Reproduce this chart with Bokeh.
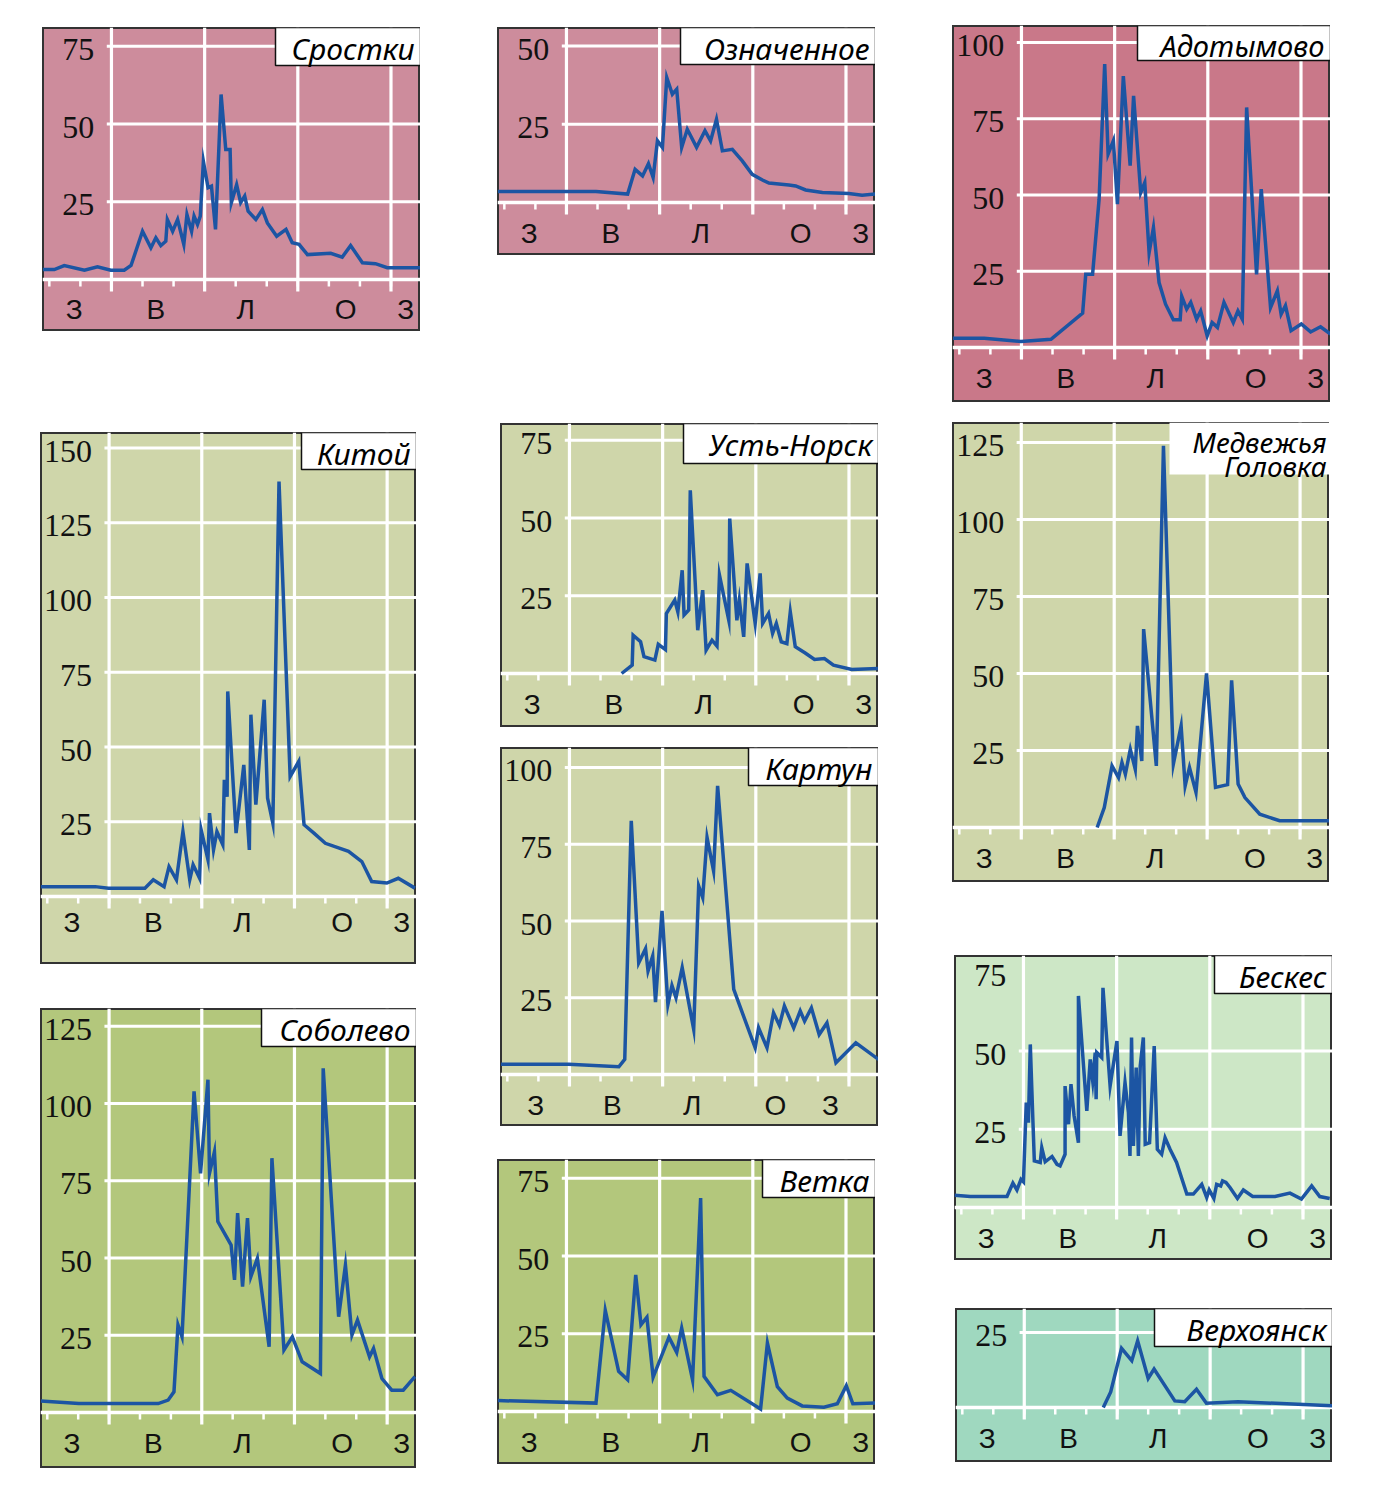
from bokeh.plotting import figure
from bokeh.models import Range1d, Spacer
from bokeh.layouts import row, column
from bokeh.core.properties import value
from bokeh.embed import file_html
from bokeh.resources import INLINE

# ---------------- data (x in months from 1 Jan, y = values) ----------------
SEASONS = ["З", "В", "Л", "О", "З"]
SEASON_X = [0.80, 3.43, 6.32, 9.54, 11.47]
SEASON_X_KARTUN = [0.91, 3.38, 5.95, 8.63, 10.40]
MONTHS = list(range(12))
SEASON_BOUNDS = [2, 5, 8, 11]

srostki_x = [-0.21, 0.16, 0.48, 1.13, 1.55, 1.98, 2.41, 2.63, 3.0, 3.27, 3.43, 3.59, 3.75, 3.8, 3.97,
             4.13, 4.33, 4.43, 4.58, 4.66, 4.77, 4.86, 4.96, 5.11, 5.22, 5.35, 5.53, 5.68, 5.82, 5.86,
             6.03, 6.16, 6.29, 6.4, 6.65, 6.86, 7.02, 7.32, 7.62, 7.82, 8.04, 8.31, 9.06, 9.43, 9.7,
             10.08, 10.5, 10.88, 11.95]
srostki_y = [3.2, 3.2, 4.5, 3.0, 4.1, 3.0, 3.0, 4.5, 15.5, 10.2, 13.4, 10.9, 12.3, 19.3, 15.5,
             19.3, 11.3, 20.9, 15.5, 20.4, 17.7, 20.4, 38.0, 29.5, 30.0, 16.1, 59.5, 41.8, 41.8, 24.7,
             30.5, 24.7, 26.8, 22.0, 19.3, 22.5, 18.2, 13.9, 16.1, 11.8, 11.3, 8.0, 8.4, 7.2, 10.9,
             5.4, 5.1, 3.8, 3.8]

oznach_x = [-0.21, 2.95, 3.97, 4.21, 4.45, 4.64, 4.79, 4.93, 5.09, 5.23, 5.41, 5.55, 5.71, 5.89, 6.19,
            6.46, 6.64, 6.83, 7.02, 7.34, 7.66, 7.98, 8.31, 8.52, 9.16, 9.38, 9.7, 10.24, 11.09, 11.52, 11.95]
oznach_y = [3.5, 3.5, 2.7, 10.6, 8.5, 12.4, 8.0, 19.7, 17.6, 39.9, 34.6, 36.2, 17.6, 23.4, 17.6,
            22.9, 19.7, 26.6, 16.5, 17.0, 13.3, 9.0, 7.2, 6.2, 5.6, 5.3, 4.0, 3.2, 2.9, 2.3, 2.7]

adot_x = [-0.21, 0.8, 1.98, 2.95, 3.97, 4.07, 4.29, 4.5, 4.68, 4.79, 4.96, 5.09, 5.28, 5.5, 5.61,
          5.84, 5.97, 6.11, 6.25, 6.43, 6.64, 6.89, 7.11, 7.16, 7.32, 7.45, 7.64, 7.77, 7.98, 8.14,
          8.31, 8.52, 8.82, 8.97, 9.11, 9.25, 9.57, 9.72, 10.02, 10.24, 10.36, 10.5, 10.68, 11.01, 11.31,
          11.63, 11.95]
adot_y = [3.0, 3.0, 2.0, 2.7, 11.3, 24.0, 24.0, 48.6, 92.9, 63.4, 67.8, 47.0, 89.0, 59.6, 82.5,
          50.8, 54.1, 31.1, 39.3, 21.3, 14.2, 9.1, 9.1, 16.8, 12.6, 14.8, 9.3, 12.0, 3.8, 8.2,
          6.6, 14.8, 8.2, 12.0, 9.3, 78.7, 24.0, 51.9, 13.1, 18.6, 10.9, 13.7, 5.5, 7.7, 5.1,
          6.8, 4.4]

kitoy_x = [-0.21, 1.55, 1.98, 3.16, 3.43, 3.78, 3.94, 4.18, 4.39, 4.61, 4.72, 4.93, 4.98, 5.2, 5.25,
           5.38, 5.49, 5.68, 5.73, 5.82, 5.84, 6.11, 6.36, 6.54, 6.59, 6.75, 7.02, 7.13, 7.3, 7.5,
           7.86, 8.14, 8.31, 8.63, 9.0, 9.75, 10.18, 10.5, 10.99, 11.36, 11.9]
kitoy_y = [3.3, 3.3, 2.8, 2.8, 5.6, 3.3, 10.0, 5.6, 21.7, 5.6, 10.6, 6.1, 22.3, 12.3, 27.9,
           15.6, 21.7, 17.3, 39.0, 33.4, 68.6, 21.2, 44.0, 15.6, 60.8, 30.7, 65.8, 32.9, 24.5, 138.8,
           40.1, 45.2, 24.0, 21.2, 17.8, 15.1, 11.7, 5.0, 4.5, 6.1, 2.8]

ustn_x = [3.68, 4.02, 4.05, 4.29, 4.4, 4.75, 4.86, 5.09, 5.12, 5.39, 5.49, 5.63, 5.69, 5.84, 5.89,
          6.13, 6.29, 6.4, 6.59, 6.75, 6.83, 7.13, 7.16, 7.39, 7.47, 7.61, 7.72, 7.98, 8.14, 8.22,
          8.41, 8.54, 8.66, 8.82, 9.0, 9.11, 9.27, 9.59, 9.89, 10.21, 10.5, 11.09, 11.95]
ustn_y = [0.0, 2.7, 12.3, 10.2, 5.4, 4.3, 9.4, 7.7, 19.3, 23.6, 19.8, 33.2, 18.8, 20.4, 58.9,
          13.9, 26.8, 7.5, 10.7, 8.8, 31.6, 17.1, 49.8, 17.1, 23.6, 11.8, 35.4, 16.1, 32.2, 16.1,
          19.3, 12.9, 16.1, 10.2, 9.6, 19.8, 8.6, 6.6, 4.5, 4.8, 2.7, 1.3, 1.6]

medv_x = [4.45, 4.68, 4.93, 5.14, 5.25, 5.36, 5.52, 5.68, 5.75, 5.89, 5.95, 6.36, 6.59, 6.91, 7.16,
          7.29, 7.43, 7.64, 7.98, 8.27, 8.66, 8.79, 9.0, 9.22, 9.7, 10.34, 11.95]
medv_y = [0.0, 6.5, 20.0, 16.2, 21.1, 17.3, 25.4, 18.9, 33.0, 21.6, 64.4, 20.0, 123.9, 20.6, 33.0,
          13.5, 19.5, 11.4, 50.0, 13.0, 13.9, 47.8, 14.1, 9.7, 4.3, 2.2, 2.2]

kartun_x = [-0.21, 1.98, 3.59, 3.78, 3.99, 4.23, 4.45, 4.53, 4.68, 4.77, 4.98, 5.17, 5.3, 5.43, 5.63,
            6.0, 6.16, 6.29, 6.43, 6.64, 6.77, 7.29, 7.98, 8.09, 8.36, 8.57, 8.76, 8.92, 9.22, 9.43,
            9.57, 9.79, 10.04, 10.29, 10.58, 11.22, 11.95]
kartun_y = [3.3, 3.3, 2.5, 4.9, 82.6, 36.4, 41.0, 33.7, 38.6, 23.6, 53.3, 22.8, 29.0, 25.0, 34.8,
            14.7, 61.4, 57.6, 77.2, 66.3, 94.0, 27.7, 8.7, 15.2, 8.7, 20.1, 16.0, 22.3, 15.2, 20.7,
            17.4, 21.7, 13.0, 16.8, 3.8, 10.3, 4.9]

sobol_x = [-0.21, 1.02, 3.59, 3.91, 4.1, 4.23, 4.36, 4.75, 4.96, 5.2, 5.25, 5.41, 5.52, 5.95, 6.06,
           6.16, 6.32, 6.48, 6.59, 6.8, 7.18, 7.27, 7.66, 7.93, 8.25, 8.84, 8.93, 9.43, 9.65, 9.86,
           10.04, 10.43, 10.56, 10.83, 11.15, 11.52, 11.9]
sobol_y = [3.7, 2.9, 2.9, 4.0, 6.7, 28.3, 24.5, 103.9, 77.4, 107.7, 77.4, 84.4, 61.8, 54.2, 42.9,
           64.5, 40.7, 62.9, 44.0, 49.9, 21.3, 82.3, 20.2, 24.5, 16.4, 12.6, 111.4, 31.0, 47.7, 25.1,
           29.9, 18.0, 20.7, 11.0, 7.2, 7.2, 11.6]

vetka_x = [-0.21, 2.95, 3.25, 3.68, 3.97, 4.23, 4.4, 4.59, 4.79, 5.3, 5.55, 5.71, 6.06, 6.32, 6.43,
           6.86, 7.29, 8.25, 8.47, 8.79, 9.11, 9.59, 10.29, 10.72, 11.01, 11.22, 11.95]
vetka_y = [3.5, 2.7, 32.5, 12.9, 10.2, 43.9, 27.9, 30.3, 11.0, 23.9, 19.0, 26.8, 10.2, 68.6, 11.3,
           5.4, 6.8, 0.8, 22.0, 8.0, 4.3, 1.8, 1.4, 2.5, 8.3, 2.5, 2.7]

beskes_x = [-0.22, 0.29, 1.47, 1.66, 1.79, 1.92, 2.0, 2.09, 2.16, 2.22, 2.31, 2.35, 2.54, 2.59, 2.7,
            2.92, 3.08, 3.18, 3.34, 3.34, 3.45, 3.53, 3.63, 3.77, 3.77, 4.04, 4.15, 4.23, 4.31, 4.34,
            4.36, 4.52, 4.56, 4.79, 5.01, 5.11, 5.27, 5.38, 5.43, 5.48, 5.54, 5.63, 5.7, 5.76, 5.86,
            5.92, 6.06, 6.21, 6.31, 6.45, 6.56, 6.72, 6.93, 7.26, 7.47, 7.74, 7.9, 7.98, 8.13, 8.22,
            8.35, 8.41, 8.52, 8.65, 8.89, 9.08, 9.38, 10.1, 10.58, 10.95, 11.28, 11.54, 11.86]
beskes_y = [3.9, 3.5, 3.5, 7.8, 5.6, 9.0, 8.2, 33.5, 27.1, 52.1, 26.1, 14.9, 14.4, 19.1, 14.6,
            16.3, 13.8, 13.3, 17.0, 38.8, 26.6, 39.4, 29.3, 20.7, 67.6, 30.9, 47.3, 40.4, 49.5, 34.6,
            49.5, 47.9, 70.2, 38.8, 53.2, 22.9, 39.9, 30.3, 16.5, 54.3, 19.7, 44.7, 16.5, 45.2, 54.3,
            20.2, 20.7, 51.6, 18.6, 17.0, 22.3, 18.6, 14.4, 4.3, 4.3, 7.4, 3.2, 5.6, 2.9, 7.4,
            6.9, 8.5, 8.0, 6.4, 2.9, 5.6, 3.5, 3.5, 4.6, 2.7, 6.9, 3.5, 2.9]

verkh_x = [4.55, 4.79, 5.14, 5.47, 5.66, 6.0, 6.19, 6.86, 7.18, 7.56, 7.88, 8.9, 11.95]
verkh_y = [0.0, 5.2, 19.7, 15.6, 22.2, 9.7, 12.8, 2.2, 1.9, 6.1, 1.4, 1.9, 0.6]

for a, b in [(srostki_x, srostki_y), (oznach_x, oznach_y), (adot_x, adot_y), (kitoy_x, kitoy_y),
             (ustn_x, ustn_y), (medv_x, medv_y), (kartun_x, kartun_y), (sobol_x, sobol_y),
             (vetka_x, vetka_y), (beskes_x, beskes_y), (verkh_x, verkh_y)]:
    assert len(a) == len(b), (len(a), len(b))

# ---------------- style ----------------
X_START, X_END = -0.22, 11.95
BLUE = "#1c55a3"
PINK = "#cd8c9c"
PINK_DARK = "#c97889"
KHAKI = "#cfd6aa"
GREEN = "#b3c77c"
LIGHT_GREEN = "#cde7c6"
TEAL = "#9fd8bf"
NUM_FONT = "Liberation Sans Narrow"
SEASON_FONT = "Liberation Sans"
TITLE_FONT = "Noto Sans"


def make_panel(title_lines, xs, ys, yticks, bg, W, H, B, s, box, grid_ticks=None,
               season_x=SEASON_X, season_off=31, box_border=True, title_size=30):
    if grid_ticks is None:
        grid_ticks = yticks
    sx = W / (X_END - X_START)
    y0 = -B / s
    y1 = (H - B) / s
    p = figure(width=W, height=H, x_range=Range1d(X_START, X_END), y_range=Range1d(y0, y1),
               output_backend="svg", toolbar_location=None, min_border=0,
               min_border_left=0, min_border_right=0, min_border_top=0, min_border_bottom=0,
               x_axis_type=None, y_axis_type=None,
               background_fill_color=bg, border_fill_color=bg,
               outline_line_color="#333333", outline_line_width=3)
    # month ticks
    p.segment(x0=MONTHS, y0=[0] * 12, x1=MONTHS, y1=[-7 / s] * 12,
              line_color="white", line_width=2.5)
    # season boundary lines
    p.segment(x0=SEASON_BOUNDS, y0=[y1] * 4, x1=SEASON_BOUNDS, y1=[-12 / s] * 4,
              line_color="white", line_width=3.2)
    # horizontal grid lines
    n = len(grid_ticks)
    p.segment(x0=[1.85] * n, y0=grid_ticks, x1=[X_END] * n, y1=grid_ticks,
              line_color="white", line_width=3.2)
    # baseline
    p.segment(x0=[X_START], y0=[0], x1=[X_END], y1=[0], line_color="white", line_width=3.5)
    # data line
    p.line(xs, ys, line_color=BLUE, line_width=3.5, line_join="miter")
    # tick labels
    p.text(x=[1.45] * len(yticks), y=[t - 3 / s for t in yticks], text=[str(t) for t in yticks],
           text_font=value(NUM_FONT), text_font_size="32px", text_align="right",
           text_baseline="middle", text_color="#111111")
    # season labels
    p.text(x=season_x, y=[-season_off / s] * 5, text=SEASONS,
           text_font=value(SEASON_FONT), text_font_size="28px", text_align="center",
           text_baseline="middle", text_color="#111111")
    # title box
    bw, bh = box
    p.quad(left=[X_END - bw / sx], right=[X_END], top=[y1], bottom=[y1 - bh / s],
           fill_color="white", line_color="#111111" if box_border else None, line_width=1.5)
    if len(title_lines) == 1:
        cy = max(bh / 2, 0.7 * title_size)
        p.text(x=[X_END - 6 / sx], y=[y1 - cy / s], text=title_lines,
               text_font=value(TITLE_FONT), text_font_style="italic", text_font_size=f"{title_size}px",
               text_align="right", text_baseline="middle", text_color="#000000")
    else:
        p.text(x=[X_END - 3 / sx] * 2, y=[y1 - 19.5 / s, y1 - 43.5 / s], text=title_lines,
               text_font=value(TITLE_FONT), text_font_style="italic", text_font_size=f"{title_size}px",
               text_align="right", text_baseline="middle", text_color="#000000")
    return p


srostki = make_panel(["Сростки"], srostki_x, srostki_y, [25, 50, 75], PINK, 378, 304, 52, 3.11, (145, 38),
                     season_off=30)
oznach = make_panel(["Означенное"], oznach_x, oznach_y, [25, 50], PINK, 378, 228, 53, 3.13, (195, 37))
adot = make_panel(["Адотымово"], adot_x, adot_y, [25, 50, 75, 100], PINK_DARK, 378, 377, 55, 3.05, (193, 35),
                  title_size=29)
kitoy = make_panel(["Китой"], kitoy_x, kitoy_y, [25, 50, 75, 100, 125, 150], KHAKI, 376, 532, 68, 2.99,
                   (115, 37), season_off=26)
ustn = make_panel(["Усть-Норск"], ustn_x, ustn_y, [25, 50, 75], KHAKI, 378, 304, 54, 3.11, (195, 40))
medv = make_panel(["Медвежья", "Головка"], medv_x, medv_y, [25, 50, 75, 100, 125], KHAKI, 377, 460, 55, 3.08,
                  (160, 52), box_border=False, title_size=28)
kartun = make_panel(["Картун"], kartun_x, kartun_y, [25, 50, 75, 100], KHAKI, 378, 379, 52, 3.07, (130, 38),
                    season_x=SEASON_X_KARTUN)
sobol = make_panel(["Соболево"], sobol_x, sobol_y, [25, 50, 75, 100, 125], GREEN, 376, 460, 56, 3.09, (155, 38))
vetka = make_panel(["Ветка"], vetka_x, vetka_y, [25, 50, 75], GREEN, 378, 305, 53, 3.11, (113, 38))
beskes = make_panel(["Бескес"], beskes_x, beskes_y, [25, 50, 75], LIGHT_GREEN, 378, 305, 53, 3.13, (118, 38),
                    grid_ticks=[25, 50])
verkh = make_panel(["Верхоянск"], verkh_x, verkh_y, [25], TEAL, 377, 154, 55, 3.0, (178, 38))


def place(col_left, col_w, items):
    children = []
    cur = 0
    for top, left, fig in items:
        if top - cur > 0:
            children.append(Spacer(width=col_w, height=top - cur))
        off = left - col_left
        children.append(row(Spacer(width=off, height=fig.height), fig,
                            Spacer(width=col_w - off - fig.width, height=fig.height)))
        cur = top + fig.height
    return column(*children)


col1 = place(0, 470, [(27, 42, srostki), (432, 40, kitoy), (1008, 40, sobol)])
col2 = place(470, 470, [(27, 497, oznach), (423, 500, ustn), (747, 500, kartun), (1159, 497, vetka)])
col3 = place(940, 400, [(25, 952, adot), (422, 952, medv), (955, 954, beskes), (1308, 955, verkh)])

layout = row(col1, col2, col3)

open("out.html", "w").write(file_html(layout, INLINE))
